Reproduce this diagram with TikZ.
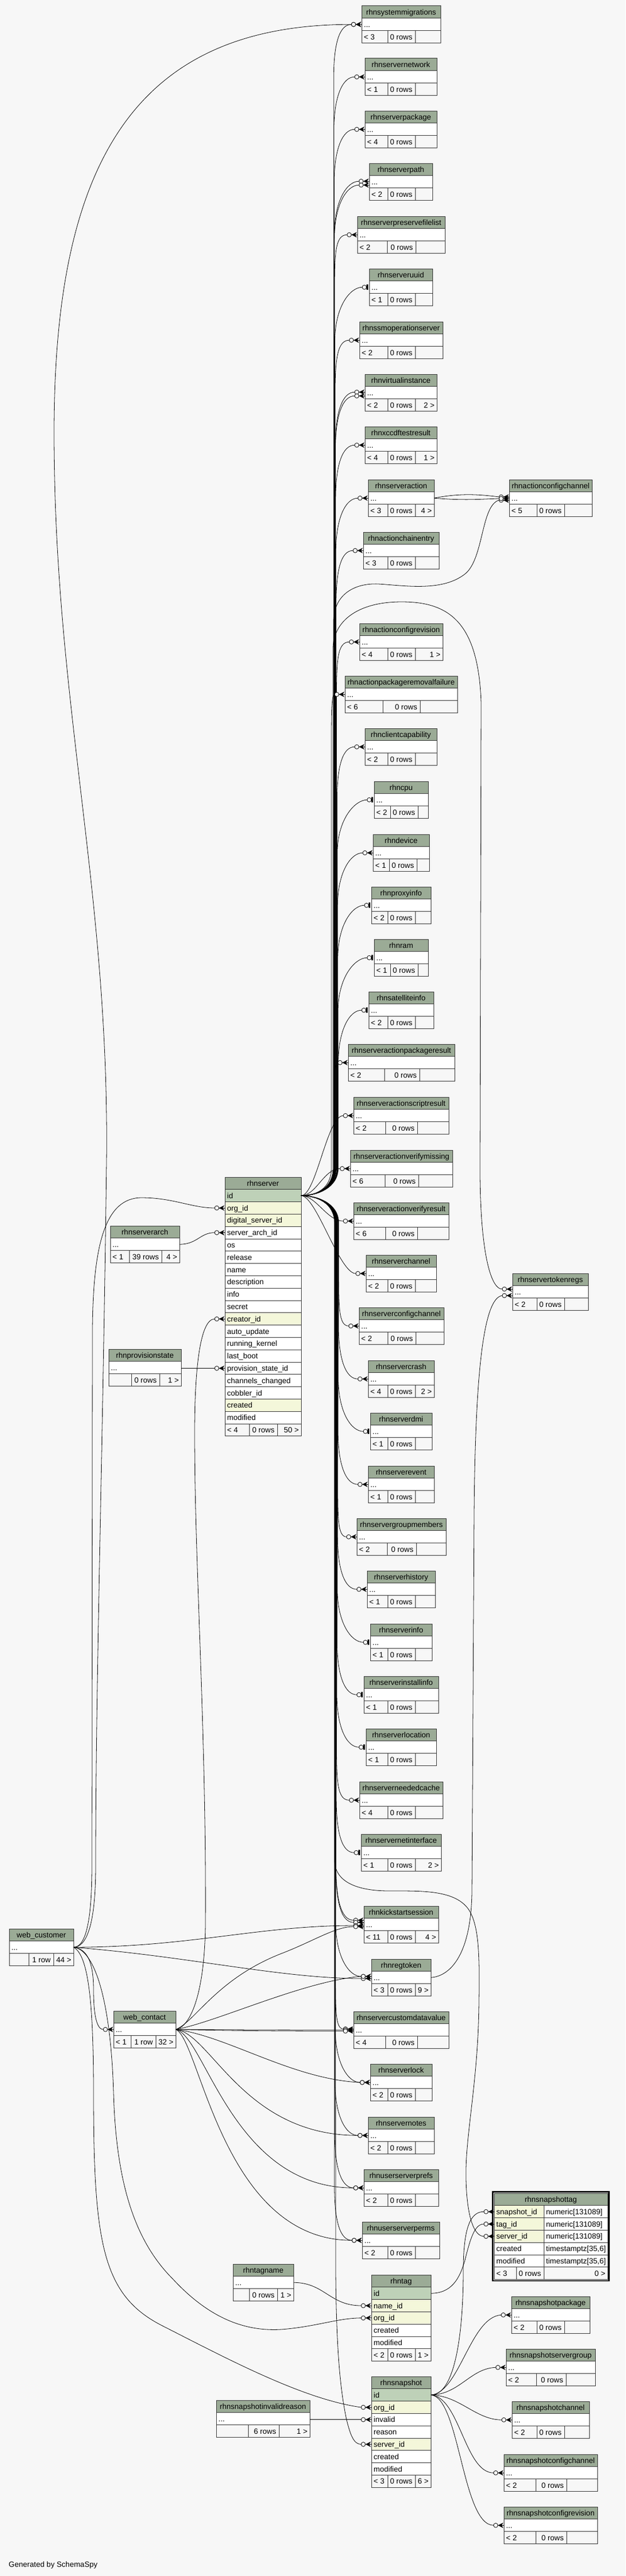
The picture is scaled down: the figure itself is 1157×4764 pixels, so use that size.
\documentclass[tikz,border=0pt]{standalone}
\usepackage{fontspec}
\setmainfont{Liberation Sans}
\definecolor{bgc}{HTML}{F7F7F7}
\definecolor{hdrc}{HTML}{9BAB96}
\definecolor{pkc}{HTML}{BED1B8}
\definecolor{fkc}{HTML}{F4F7DA}
\definecolor{bdc}{HTML}{303030}
\tikzset{
  tb/.style={draw=bdc, line width=1pt},
  link/.style={draw=black, line width=0.8pt},
  lbl/.style={inner sep=0pt, font=\fontsize{14}{16}\selectfont},
}
\newcommand\tipmark[3]{%
  \ifnum#3=1
    \fill[black] (#1-5,#2-5) rectangle (#1-2,#2+5);
    \draw[black, line width=0.8pt, fill=bgc] (#1-9,#2) circle[radius=4];
  \else
    \fill[black] (#1-11,#2) -- (#1-1,#2-5) -- (#1-4,#2) -- (#1-1,#2+5) -- cycle;
    \draw[black, line width=0.8pt] (#1-11,#2) -- (#1,#2);
    \draw[black, line width=0.8pt, fill=bgc] (#1-15,#2) circle[radius=4];
  \fi}
\newcommand\bhead[4]{%
  \fill[hdrc] (#2,#4) rectangle (#3,#4+22.8);
  \draw[tb] (#2,#4) rectangle (#3,#4+22.8);
  \node[lbl,anchor=base] (#1) at ({(#2+#3)/2},#4+16.5) {\detokenize{#1}};}
\newcommand\brow[5]{%
  \fill[#5] (#1,#3) rectangle (#2,#3+22.8);
  \draw[tb] (#1,#3) rectangle (#2,#3+22.8);
  \node[lbl,anchor=base west] at (#1+4,#3+16.5) {\detokenize{#4}};}
\newcommand\browt[7]{%
  \fill[#7] (#1,#4) rectangle (#2,#4+22.8);
  \fill[white] (#2,#4) rectangle (#3,#4+22.8);
  \draw[tb] (#1,#4) rectangle (#3,#4+22.8) (#2,#4) -- (#2,#4+22.8);
  \node[lbl,anchor=base west] at (#1+4,#4+16.5) {\detokenize{#5}};
  \node[lbl,anchor=base west] at (#2+4,#4+16.5) {#6};}
\newcommand\bfoot[8]{%
  \fill[bgc] (#1,#3) rectangle (#2,#3+22.8);
  \draw[tb] (#1,#3) rectangle (#2,#3+22.8) (#4,#3) -- (#4,#3+22.8) (#5,#3) -- (#5,#3+22.8);
  \node[lbl,anchor=base west] at (#1+4,#3+16.5) {#6};
  \node[lbl,anchor=base east] at (#5-5,#3+16.5) {#7};
  \node[lbl,anchor=base east] at (#2-4,#3+16.5) {#8};}
\newcommand\stbl[9]{%
  \expandafter\xdef\csname tL@#1\endcsname{#2}%
  \expandafter\xdef\csname tT@#1\endcsname{#4}%
  \bhead{#1}{#2}{#3}{#4}%
  \pgfmathsetmacro\tyA{#4+22.8}%
  \pgfmathsetmacro\tyB{#4+45.6}%
  \fill[white] (#2,\tyA) rectangle (#3,\tyB);
  \draw[tb] (#2,\tyA) rectangle (#3,\tyB);
  \node[lbl,anchor=base west] at (#2+4,\tyA+16.5) {...};
  \bfoot{#2}{#3}{\tyB}{#5}{#6}{#7}{#8}{#9}%
}
\newcommand\lnk[6]{%
  \pgfmathsetmacro\eX{#4-((#6==1)?13:19)}%
  \draw[link] (#1) .. controls (#2) and (#3) .. (\eX,#5);
  \tipmark{#4}{#5}{#6}}
\newcommand\fan[3]{%
  \edef\fLraw{\csname tL@#1\endcsname}%
  \edef\fTraw{\csname tT@#1\endcsname}%
  \pgfmathsetmacro\fL{\fLraw}%
  \pgfmathsetmacro\fY{\fTraw+34.2+#2}%
  \pgfmathsetmacro\fX{\fL-((#3==1)?13:19)}%
  \pgfmathtruncatemacro\fc{(\fY<2060)?1:((\fY>2365)?2:0)}%
  \ifcase\fc
    \pgfmathsetmacro\cx{max(\fX-30,595)}%
    \draw[link] (srvid) .. controls (585,2211.2) and (\cx,\fY) .. (\fX,\fY);
  \or
    \pgfmathsetmacro\xb{min(617+\fY/216,\fX-6)}%
    \pgfmathsetmacro\cx{max(\fX-22,\xb)}%
    \draw[link] (srvid) .. controls (585,2211.2) and (\xb,2198) .. (\xb,2160) -- (\xb,\fY+100) .. controls (\xb,\fY+35) and (\cx,\fY) .. (\fX,\fY);
  \or
    \pgfmathsetmacro\xb{min(617+(4520-\fY)/216,\fX-6)}%
    \pgfmathsetmacro\cx{max(\fX-22,\xb)}%
    \draw[link] (srvid) .. controls (585,2211.2) and (\xb,2224) .. (\xb,2262) -- (\xb,\fY-100) .. controls (\xb,\fY-35) and (\cx,\fY) .. (\fX,\fY);
  \fi
  \tipmark{\fL}{\fY}{#3}%
}
\begin{document}
\begin{tikzpicture}[x=1pt,y=-1pt]
\fill[bgc] (0,0) rectangle (1157,4764);
\useasboundingbox (0,0) rectangle (1157,4764);

% ---------- right column ----------
\stbl{rhnsystemmigrations}{669}{815}{11}{717}{768}{< 3}{0 rows}{}
\stbl{rhnservernetwork}{675}{808}{108}{717}{768}{< 1}{0 rows}{}
\stbl{rhnserverpackage}{675}{808}{205}{717}{768}{< 4}{0 rows}{}
\stbl{rhnserverpath}{683}{800}{302}{717}{768}{< 2}{0 rows}{}
\stbl{rhnserverpreservefilelist}{661}{823}{400}{716}{769}{< 2}{0 rows}{}
\stbl{rhnserveruuid}{683}{800}{497}{717}{768}{< 1}{0 rows}{}
\stbl{rhnssmoperationserver}{665}{819}{595}{717}{768}{< 2}{0 rows}{}
\stbl{rhnvirtualinstance}{675}{808}{692}{717}{768}{< 2}{0 rows}{2 >}
\stbl{rhnxccdftestresult}{675}{808}{789}{717}{768}{< 4}{0 rows}{1 >}
\stbl{rhnserveraction}{681}{803}{887}{717}{768}{< 3}{0 rows}{4 >}
\stbl{rhnactionchainentry}{672}{812}{984}{717}{768}{< 3}{0 rows}{}
\stbl{rhnactionconfigrevision}{665}{819}{1153}{717}{768}{< 4}{0 rows}{1 >}
\stbl{rhnactionpackageremovalfailure}{638}{846}{1250}{708}{777}{< 6}{0 rows}{}
\stbl{rhnclientcapability}{675}{808}{1347}{717}{768}{< 2}{0 rows}{}
\stbl{rhncpu}{692}{792}{1445}{722}{773}{< 2}{0 rows}{}
\stbl{rhndevice}{690}{794}{1543}{720}{771}{< 1}{0 rows}{}
\stbl{rhnproxyinfo}{687}{797}{1640}{717}{768}{< 2}{0 rows}{}
\stbl{rhnram}{692}{792}{1737}{722}{773}{< 1}{0 rows}{}
\stbl{rhnsatelliteinfo}{682}{802}{1834}{717}{768}{< 2}{0 rows}{}
\stbl{rhnserveractionpackageresult}{644}{841}{1931}{711}{776}{< 2}{0 rows}{}
\stbl{rhnserveractionscriptresult}{654}{830}{2029}{713}{772}{< 2}{0 rows}{}
\stbl{rhnserveractionverifymissing}{648}{837}{2127}{712}{774}{< 6}{0 rows}{}
\stbl{rhnserveractionverifyresult}{654}{830}{2224}{713}{772}{< 6}{0 rows}{}
\stbl{rhnserverchannel}{677}{807}{2321}{717}{768}{< 2}{0 rows}{}
\stbl{rhnserverconfigchannel}{664}{821}{2418}{717}{769}{< 2}{0 rows}{}
\stbl{rhnservercrash}{681}{803}{2516}{717}{768}{< 4}{0 rows}{2 >}
\stbl{rhnserverdmi}{685}{799}{2613}{717}{768}{< 1}{0 rows}{}
\stbl{rhnserverevent}{681}{803}{2711}{717}{768}{< 1}{0 rows}{}
\stbl{rhnservergroupmembers}{660}{825}{2808}{716}{770}{< 2}{0 rows}{}
\stbl{rhnserverhistory}{679}{805}{2905}{717}{768}{< 1}{0 rows}{}
\stbl{rhnserverinfo}{685}{799}{3003}{717}{768}{< 1}{0 rows}{}
\stbl{rhnserverinstallinfo}{673}{811}{3100}{717}{768}{< 1}{0 rows}{}
\stbl{rhnserverlocation}{677}{807}{3197}{717}{768}{< 1}{0 rows}{}
\stbl{rhnserverneededcache}{665}{819}{3295}{717}{768}{< 4}{0 rows}{}
\stbl{rhnservernetinterface}{668}{816}{3392}{717}{768}{< 1}{0 rows}{2 >}
\stbl{rhnkickstartsession}{673}{811}{3525}{717}{768}{< 11}{0 rows}{4 >}
\stbl{rhnregtoken}{687}{797}{3623}{717}{768}{< 3}{0 rows}{9 >}
\stbl{rhnservercustomdatavalue}{654}{830}{3720}{713}{772}{< 4}{0 rows}{}
\stbl{rhnserverlock}{685}{799}{3817}{717}{768}{< 2}{0 rows}{}
\stbl{rhnservernotes}{681}{803}{3915}{717}{768}{< 2}{0 rows}{}
\stbl{rhnuserserverprefs}{673}{811}{4012}{717}{768}{< 2}{0 rows}{}
\stbl{rhnuserserverperms}{670}{813}{4109}{717}{768}{< 2}{0 rows}{}

% ---------- other small tables ----------
\stbl{rhnactionconfigchannel}{942}{1095}{887}{993}{1044}{< 5}{0 rows}{}
\stbl{rhnservertokenregs}{948}{1088}{2355}{993}{1044}{< 2}{0 rows}{}
\stbl{rhnsnapshotpackage}{946}{1091}{4247}{993}{1044}{< 2}{0 rows}{}
\stbl{rhnsnapshotservergroup}{936}{1101}{4344}{992}{1047}{< 2}{0 rows}{}
\stbl{rhnsnapshotchannel}{947}{1090}{4441}{993}{1044}{< 2}{0 rows}{}
\stbl{rhnsnapshotconfigchannel}{932}{1105}{4539}{991}{1048}{< 2}{0 rows}{}
\stbl{rhnsnapshotconfigrevision}{932}{1105}{4636}{991}{1048}{< 2}{0 rows}{}
\stbl{rhnserverarch}{204}{332}{2267}{239}{299}{< 1}{39 rows}{4 >}
\stbl{rhnprovisionstate}{201}{335}{2495}{243}{295}{}{0 rows}{1 >}
\stbl{web_customer}{17}{136}{3567}{53}{99}{}{1 row}{44 >}
\stbl{web_contact}{210}{325}{3719}{242}{288}{< 1}{1 row}{32 >}
\stbl{rhntagname}{431}{543}{4187}{461}{513}{}{0 rows}{1 >}
\stbl{rhnsnapshotinvalidreason}{400}{573}{4439}{459}{516}{}{6 rows}{1 >}

% ---------- rhnserver ----------
\bhead{rhnserver}{416}{557}{2177}
\brow{416}{557}{2199.8}{id}{pkc}
\brow{416}{557}{2222.6}{org_id}{fkc}
\brow{416}{557}{2245.4}{digital_server_id}{fkc}
\brow{416}{557}{2268.2}{server_arch_id}{white}
\brow{416}{557}{2291.0}{os}{white}
\brow{416}{557}{2313.8}{release}{white}
\brow{416}{557}{2336.6}{name}{white}
\brow{416}{557}{2359.4}{description}{white}
\brow{416}{557}{2382.2}{info}{white}
\brow{416}{557}{2405.0}{secret}{white}
\brow{416}{557}{2427.8}{creator_id}{fkc}
\brow{416}{557}{2450.6}{auto_update}{white}
\brow{416}{557}{2473.4}{running_kernel}{white}
\brow{416}{557}{2496.2}{last_boot}{white}
\brow{416}{557}{2519.0}{provision_state_id}{white}
\brow{416}{557}{2541.8}{channels_changed}{white}
\brow{416}{557}{2564.6}{cobbler_id}{white}
\brow{416}{557}{2587.4}{created}{fkc}
\brow{416}{557}{2610.2}{modified}{white}
\bfoot{416}{557}{2633.0}{461}{513}{< 4}{0 rows}{50 >}

% ---------- rhntag ----------
\bhead{rhntag}{687}{797}{4207}
\brow{687}{797}{4229.8}{id}{pkc}
\brow{687}{797}{4252.6}{name_id}{fkc}
\brow{687}{797}{4275.4}{org_id}{fkc}
\brow{687}{797}{4298.2}{created}{white}
\brow{687}{797}{4321.0}{modified}{white}
\bfoot{687}{797}{4343.8}{717}{768}{< 2}{0 rows}{1 >}

% ---------- rhnsnapshot ----------
\bhead{rhnsnapshot}{687}{797}{4395}
\brow{687}{797}{4417.8}{id}{pkc}
\brow{687}{797}{4440.6}{org_id}{fkc}
\brow{687}{797}{4463.4}{invalid}{white}
\brow{687}{797}{4486.2}{reason}{white}
\brow{687}{797}{4509.0}{server_id}{fkc}
\brow{687}{797}{4531.8}{created}{white}
\brow{687}{797}{4554.6}{modified}{white}
\bfoot{687}{797}{4577.4}{717}{768}{< 3}{0 rows}{6 >}

% ---------- rhnsnapshottag ----------
\bhead{rhnsnapshottag}{914}{1124}{4056}
\browt{914}{1006}{1124}{4078.8}{snapshot_id}{numeric[131089]}{fkc}
\browt{914}{1006}{1124}{4101.6}{tag_id}{numeric[131089]}{fkc}
\browt{914}{1006}{1124}{4124.4}{server_id}{numeric[131089]}{fkc}
\browt{914}{1006}{1124}{4147.2}{created}{timestamptz[35,6]}{white}
\browt{914}{1006}{1124}{4170.0}{modified}{timestamptz[35,6]}{white}
\bfoot{914}{1124}{4192.8}{955}{1006}{< 3}{0 rows}{0 >}
\draw[black, line width=2.5pt] (911.5,4053.5) rectangle (1126.5,4218);

% ---------- anchor coordinates ----------
\coordinate (srvid) at (557,2211.2);
\coordinate (wcust) at (136,3601.2);
\coordinate (wcont) at (325,3753.2);
\coordinate (archp) at (332,2301.2);
\coordinate (provp) at (335,2530.4);
\coordinate (tagnp) at (543,4221.2);
\coordinate (invrp) at (573,4474.8);
\coordinate (tagid) at (797,4241.2);
\coordinate (snapid) at (797,4429.2);
\coordinate (regtp) at (797,3657.2);
\coordinate (sactp) at (803,921.2);

% ---------- fan from rhnserver.id ----------
\fan{rhnsystemmigrations}{0}{0}
\fan{rhnservernetwork}{0}{0}
\fan{rhnserverpackage}{0}{0}
\fan{rhnserverpath}{-1}{0}
\fan{rhnserverpath}{6}{0}
\fan{rhnserverpreservefilelist}{0}{0}
\fan{rhnserveruuid}{0}{1}
\fan{rhnssmoperationserver}{0}{0}
\fan{rhnvirtualinstance}{-1}{0}
\fan{rhnvirtualinstance}{6}{0}
\fan{rhnxccdftestresult}{0}{0}
\fan{rhnserveraction}{0}{0}
\fan{rhnactionchainentry}{0}{0}
\fan{rhnactionconfigrevision}{0}{0}
\fan{rhnactionpackageremovalfailure}{0}{0}
\fan{rhnclientcapability}{0}{0}
\fan{rhncpu}{0}{1}
\fan{rhndevice}{0}{0}
\fan{rhnproxyinfo}{0}{1}
\fan{rhnram}{0}{1}
\fan{rhnsatelliteinfo}{0}{1}
\fan{rhnserveractionpackageresult}{0}{0}
\fan{rhnserveractionscriptresult}{0}{0}
\fan{rhnserveractionverifymissing}{0}{0}
\fan{rhnserveractionverifyresult}{0}{0}
\fan{rhnserverchannel}{0}{0}
\fan{rhnserverconfigchannel}{0}{0}
\fan{rhnservercrash}{0}{0}
\fan{rhnserverdmi}{0}{1}
\fan{rhnserverevent}{0}{0}
\fan{rhnservergroupmembers}{0}{0}
\fan{rhnserverhistory}{0}{0}
\fan{rhnserverinfo}{0}{1}
\fan{rhnserverinstallinfo}{0}{1}
\fan{rhnserverlocation}{0}{1}
\fan{rhnserverneededcache}{0}{0}
\fan{rhnservernetinterface}{0}{1}
\fan{rhnkickstartsession}{-8}{0}
\fan{rhnkickstartsession}{-4}{0}
\fan{rhnregtoken}{-2}{0}
\fan{rhnservercustomdatavalue}{-2}{0}
\fan{rhnserverlock}{0}{0}
\fan{rhnservernotes}{0}{0}
\fan{rhnuserserverprefs}{0}{0}
\fan{rhnuserserverperms}{0}{0}

% rhnserver.id -> rhnactionconfigchannel
\draw[link] (srvid) .. controls (585,2211.2) and (617,2198) .. (617,2160) -- (617,1150) .. controls (617,1100) and (655,1078) .. (700,1080) .. controls (750,1083) and (820,1095) .. (862,1060) .. controls (895,1030) and (890,935) .. (923,925);
\tipmark{942}{925}{0}
% rhnserveraction -> rhnactionconfigchannel (x2)
\lnk{sactp}{850,912}{885,914}{942}{919}{0}
\lnk{sactp}{860,926}{890,923}{942}{922}{0}
% rhnserver.id -> rhnservertokenregs
\draw[link] (srvid) .. controls (585,2211.2) and (616,2198) .. (616,2160) -- (616,1200) .. controls (616,1150) and (660,1113) .. (743,1113) .. controls (830,1113) and (885,1150) .. (890,1300) -- (888,2150) .. controls (887,2300) and (905,2384) .. (929,2384);
\tipmark{948}{2384}{0}
% rhnregtoken -> rhnservertokenregs
\draw[link] (regtp) .. controls (830,3655) and (871,3620) .. (873,3500) -- (877,2800) .. controls (879,2550) and (893,2400) .. (929,2396);
\tipmark{948}{2396}{0}
% rhnserver.id -> rhnsnapshottag.server_id
\draw[link] (srvid) .. controls (585,2211.2) and (619,2224) .. (619,2262) -- (619,3440) .. controls (619,3480) and (660,3497) .. (720,3497) .. controls (780,3497) and (840,3495) .. (866,3530) .. controls (887,3560) and (887,3620) .. (886,3700) .. controls (885,3850) and (860,3950) .. (862,4030) .. controls (864,4110) and (880,4135.8) .. (895,4135.8);
\tipmark{914}{4135.8}{0}
% rhnserver.id -> rhnsnapshot.server_id
\draw[link] (srvid) .. controls (585,2211.2) and (620,2224) .. (620,2262) -- (621,4200) .. controls (622,4350) and (630,4420) .. (640,4470) .. controls (648,4505) and (655,4520.4) .. (668,4520.4);
\tipmark{687}{4520.4}{0}

% ---------- web_customer ----------
\draw[link] (wcust) .. controls (160,3601) and (177,3560) .. (177,3450) .. controls (177,3100) and (190,2700) .. (197,2150) .. controls (203,1650) and (100,1300) .. (100,800) .. controls (100,300) and (250,45.2) .. (650,45.2);
\tipmark{669}{45.2}{0}
\draw[link] (wcust) .. controls (157,3601) and (170,3560) .. (170,3450) -- (171,2460) .. controls (172,2300) and (195,2215) .. (262,2215) .. controls (320,2215) and (355,2234) .. (397,2234);
\tipmark{416}{2234}{0}
\draw[link] (wcust) .. controls (162,3604) and (173,3630) .. (173,3680) .. controls (173,3730) and (180,3753.2) .. (191,3753.2);
\tipmark{210}{3753.2}{0}
\lnk{wcust}{350,3601}{480,3561}{673}{3561}{0}
\lnk{wcust}{350,3618}{520,3659}{687}{3659}{0}
\draw[link] (wcust) .. controls (175,3605) and (205,3700) .. (210,3870) .. controls (215,4050) and (255,4150) .. (320,4215) .. controls (385,4285) and (450,4312) .. (520,4308) .. controls (585,4303) and (625,4286.8) .. (668,4286.8);
\tipmark{687}{4286.8}{0}
\draw[link] (wcust) .. controls (163,3615) and (173,3700) .. (173,3870) .. controls (173,4150) and (190,4245) .. (300,4301) .. controls (420,4362) and (560,4437) .. (668,4452);
\tipmark{687}{4452}{0}

% ---------- web_contact ----------
\draw[link] (wcont) .. controls (348,3750) and (378,3700) .. (380,3560) .. controls (382,3200) and (360,2900) .. (360,2650) .. controls (360,2520) and (372,2439.2) .. (397,2439.2);
\tipmark{416}{2439.2}{0}
\draw[link] (wcont) .. controls (360,3740) and (400,3660) .. (520,3613) .. controls (580,3590) and (620,3563) .. (654,3563);
\tipmark{673}{3563}{0}
\lnk{wcont}{400,3740}{560,3664}{687}{3655}{0}
\lnk{wcont}{450,3754}{550,3754.2}{654}{3754.2}{0}
\lnk{wcont}{450,3756}{550,3756.2}{654}{3756.2}{0}
\lnk{wcont}{420,3765}{540,3845}{685}{3851.2}{0}
\lnk{wcont}{390,3760}{450,3949.2}{681}{3949.2}{0}
\lnk{wcont}{380,3765}{430,4046.2}{673}{4046.2}{0}
\lnk{wcont}{370,3770}{410,4143.2}{670}{4143.2}{0}

% ---------- other links ----------
\lnk{archp}{365,2301.2}{370,2279.6}{416}{2279.6}{0}
\lnk{provp}{360,2530.4}{370,2530.4}{416}{2530.4}{0}
\lnk{tagnp}{600,4221.2}{610,4264}{687}{4264}{0}
\lnk{invrp}{620,4474.8}{640,4474.8}{687}{4474.8}{0}
\draw[link] (tagid) .. controls (835,4241) and (850,4215) .. (860,4180) .. controls (870,4140) and (878,4113) .. (895,4113);
\tipmark{914}{4113}{0}
\draw[link] (snapid) .. controls (845,4429) and (857,4300) .. (857,4200) .. controls (857,4115) and (872,4090.2) .. (895,4090.2);
\tipmark{914}{4090.2}{0}
\lnk{snapid}{850,4425}{870,4285}{946}{4281.2}{0}
\lnk{snapid}{850,4428}{870,4380}{936}{4378.2}{0}
\lnk{snapid}{850,4430}{880,4475.2}{947}{4475.2}{0}
\lnk{snapid}{850,4432}{860,4573.2}{932}{4573.2}{0}
\lnk{snapid}{850,4432}{855,4670.2}{932}{4670.2}{0}

\node[lbl,anchor=base west] (gen) at (16,4747) {Generated by SchemaSpy};
\end{tikzpicture}
\end{document}
